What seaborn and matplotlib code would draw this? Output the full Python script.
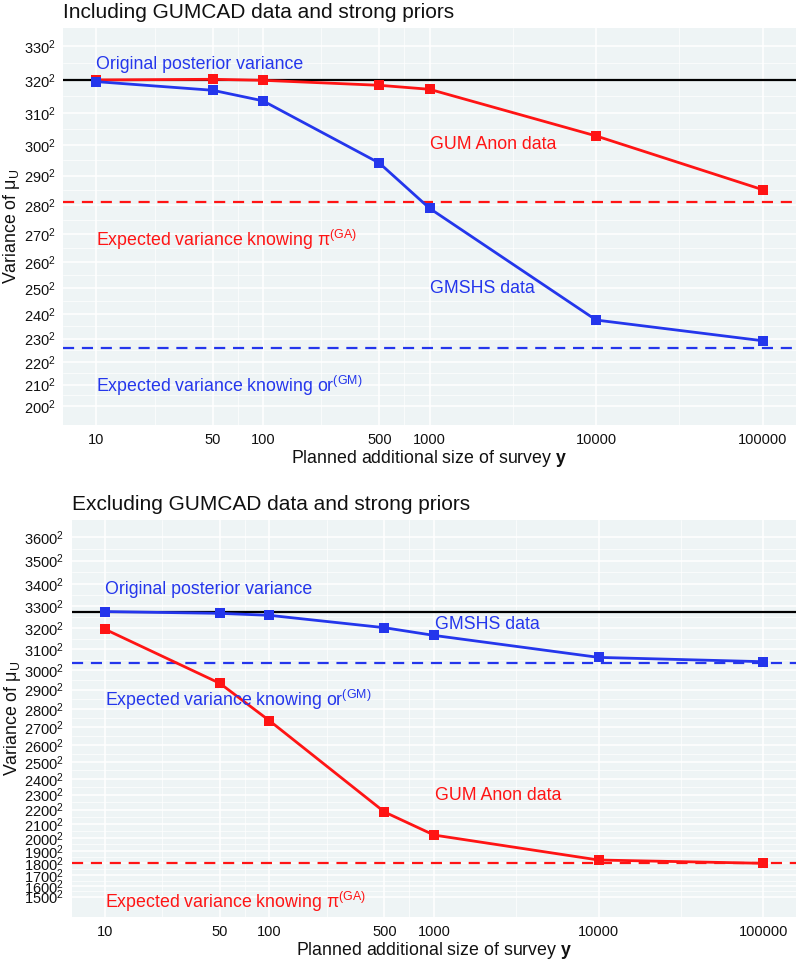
import matplotlib
matplotlib.use("Agg")
import matplotlib.pyplot as plt
import numpy as np
import pandas as pd
import seaborn as sns

RED = "#ff1414"
BLUE = "#2436ec"
PANEL_BG = "#eef4f5"

SIZES = [10, 50, 100, 500, 1000, 10000, 100000]
X_TICKS = [10, 50, 100, 500, 1000, 10000, 100000]

# ---------------------------------------------------------------------------
# Panel 1 — including GUMCAD data (values are standard deviations, squared on plot)
# ---------------------------------------------------------------------------
top_gum_sd = [320.0, 320.2, 319.9, 318.4, 317.2, 302.8, 285.3]
top_gmshs_sd = [319.5, 316.9, 313.7, 294.1, 279.0, 237.6, 229.1]
top_orig_sd = 320.0
top_ga_sd = 281.2
top_gm_sd = 225.9
top_ticks_sd = [200, 210, 220, 230, 240, 250, 260, 270, 280, 290, 300, 310, 320, 330]

# ---------------------------------------------------------------------------
# Panel 2 — excluding GUMCAD data
# ---------------------------------------------------------------------------
bot_gum_sd = [3195, 2932, 2736, 2184, 2021, 1828, 1801]
bot_gmshs_sd = [3276, 3268, 3259, 3202, 3166, 3061, 3040]
bot_orig_sd = 3276
bot_ga_sd = 1801
bot_gm_sd = 3035
bot_ticks_sd = list(range(1500, 3700, 100))

sns.set_theme(style="darkgrid")
plt.rcParams["font.family"] = ["Liberation Sans", "DejaVu Sans"]
plt.rcParams["mathtext.fontset"] = "custom"
plt.rcParams["mathtext.rm"] = "Liberation Sans"
plt.rcParams["mathtext.it"] = "Liberation Sans:italic"
plt.rcParams["mathtext.bf"] = "Liberation Sans:bold"


def draw_panel(ax, gum, gmshs, orig, ga, gm, ticks, ylim, title, texts):
    df = pd.DataFrame({
        "size": SIZES * 2,
        "variance": [v ** 2 for v in gum] + [v ** 2 for v in gmshs],
        "source": ["GUM Anon"] * len(SIZES) + ["GMSHS"] * len(SIZES),
    })
    ax.set_facecolor(PANEL_BG)
    ax.axhline(orig ** 2, color="black", linewidth=1.6, zorder=2)
    ax.axhline(ga ** 2, color=RED, linewidth=1.6, linestyle=(0, (5, 3.5)), zorder=2)
    ax.axhline(gm ** 2, color=BLUE, linewidth=1.6, linestyle=(0, (5, 3.5)), zorder=2)
    sns.lineplot(data=df, x="size", y="variance", hue="source",
                 palette={"GUM Anon": RED, "GMSHS": BLUE},
                 marker="s", markersize=6.5, markeredgewidth=0, linewidth=2,
                 legend=False, ax=ax, zorder=3)
    ax.set_xscale("log")
    ax.set_xlim(10 ** 0.8, 10 ** 5.2)
    ax.set_ylim(*ylim)
    ax.set_xticks(X_TICKS)
    ax.set_xticklabels([str(t) for t in X_TICKS])
    minor_x = [np.sqrt(a * b) for a, b in zip(X_TICKS[:-1], X_TICKS[1:])]
    ax.set_xticks(minor_x, minor=True)
    ax.set_yticks([t ** 2 for t in ticks])
    ax.set_yticklabels([f"{t}$^2$" for t in ticks])
    minor_y = [((a ** 2) + (b ** 2)) / 2 for a, b in zip(ticks[:-1], ticks[1:])]
    ax.set_yticks(minor_y, minor=True)
    ax.tick_params(axis="both", which="minor", length=0)
    ax.tick_params(axis="both", which="major", length=3.5, width=1,
                   color="#333333", labelsize=10.5, labelcolor="#111111", pad=2)
    ax.grid(which="major", color="white", linewidth=1.1)
    ax.grid(which="minor", color="white", linewidth=0.5)
    for s in ax.spines.values():
        s.set_visible(False)
    ax.set_xlabel(r"Planned additional size of survey $\mathbf{y}$",
                  fontsize=12.8, labelpad=1, color="#111111")
    ax.set_ylabel(r"Variance of μ$_{\mathrm{U}}$", fontsize=12.8, labelpad=1,
                  color="#111111")
    ax.set_title(title, loc="left", fontsize=15, pad=7, color="#111111")
    for x, y, label, color in texts:
        ax.text(x, y ** 2, label, color=color, fontsize=12.8, ha="left",
                va="center", zorder=4)


fig = plt.figure(figsize=(7.99, 9.59), dpi=100)
ax1 = fig.add_axes([63 / 799, 1 - 425 / 959, 733 / 799, 397 / 959])
ax2 = fig.add_axes([72 / 799, 1 - 917 / 959, 724 / 799, 397 / 959])

ga_label = r"Expected variance knowing π$^{\mathrm{(GA)}}$"
gm_label = r"Expected variance knowing or$^{\mathrm{(GM)}}$"

draw_panel(ax1, top_gum_sd, top_gmshs_sd, top_orig_sd, top_ga_sd, top_gm_sd,
           top_ticks_sd, (36364, 112345),
           "Including GUMCAD data and strong priors",
           [(10, 324.7, "Original posterior variance", BLUE),
            (1010, 300, "GUM Anon data", RED),
            (10, 268, ga_label, RED),
            (1010, 250, "GMSHS data", BLUE),
            (10, 209.5, gm_label, BLUE)])

draw_panel(ax2, bot_gum_sd, bot_gmshs_sd, bot_orig_sd, bot_ga_sd, bot_gm_sd,
           bot_ticks_sd, (1.646e6, 13.457e6),
           "Excluding GUMCAD data and strong priors",
           [(10, 3376, "Original posterior variance", BLUE),
            (1010, 3219, "GMSHS data", BLUE),
            (10, 2846, gm_label, BLUE),
            (1010, 2292, "GUM Anon data", RED),
            (10, 1449, ga_label, RED)])

fig.savefig("out.png", dpi=100)
